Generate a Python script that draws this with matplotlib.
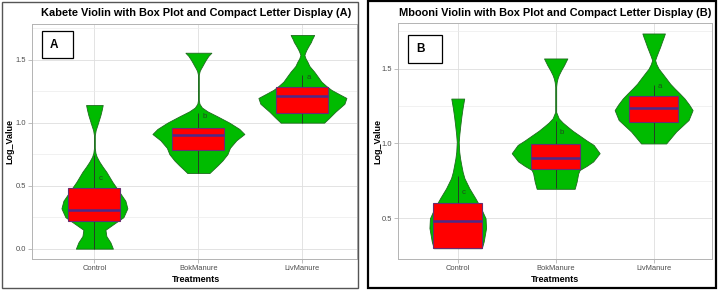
import numpy as np
import matplotlib.pyplot as plt
from matplotlib.patches import Rectangle

plt.rcParams['font.family'] = ['Liberation Sans', 'DejaVu Sans']

W, H = 718, 290

treatments = ["Control", "BokManure", "LivManure"]
letters = ["c", "b", "a"]

# Kabete (A): violin outlines, half width in category units
kab_ctrl_y = [0.00, 0.05, 0.10, 0.15, 0.20, 0.25, 0.32, 0.38, 0.45, 0.53, 0.57, 0.61, 0.65, 0.69, 0.73, 0.76, 0.80, 0.90, 0.94, 0.98, 1.02, 1.06, 1.10, 1.14]
kab_ctrl_w = [0.178, 0.154, 0.115, 0.106, 0.192, 0.279, 0.317, 0.298, 0.240, 0.173, 0.144, 0.115, 0.080, 0.048, 0.022, 0.010, 0.004, 0.004, 0.012, 0.028, 0.043, 0.058, 0.070, 0.080]
kab_bok_y = [0.60, 0.63, 0.66, 0.70, 0.75, 0.80, 0.86, 0.91, 0.95, 1.00, 1.05, 1.09, 1.12, 1.15, 1.18, 1.38, 1.41, 1.43, 1.45, 1.48, 1.50, 1.53, 1.555]
kab_bok_w = [0.106, 0.144, 0.183, 0.231, 0.279, 0.303, 0.365, 0.442, 0.394, 0.298, 0.183, 0.087, 0.034, 0.010, 0.004, 0.004, 0.012, 0.024, 0.038, 0.058, 0.072, 0.096, 0.125]
kab_liv_y = [1.00, 1.04, 1.087, 1.15, 1.196, 1.23, 1.26, 1.29, 1.325, 1.37, 1.405, 1.43, 1.45, 1.484, 1.51, 1.537, 1.56, 1.577, 1.60, 1.62, 1.64, 1.66, 1.68, 1.696]
kab_liv_w = [0.209, 0.260, 0.317, 0.404, 0.423, 0.346, 0.279, 0.231, 0.183, 0.144, 0.113, 0.087, 0.067, 0.048, 0.030, 0.019, 0.029, 0.038, 0.053, 0.067, 0.082, 0.091, 0.104, 0.113]

kab_q1 = [0.22, 0.78, 1.08]
kab_med = [0.31, 0.90, 1.21]
kab_q3 = [0.48, 0.96, 1.28]
kab_lo = [0.00, 0.60, 1.00]
kab_hi = [0.74, 1.08, 1.38]
kab_let = [0.56, 1.045, 1.36]

# Mbooni (B)
mbo_ctrl_y = [0.30, 0.345, 0.435, 0.50, 0.57, 0.635, 0.70, 0.768, 0.81, 0.857, 0.90, 0.945, 1.01, 1.06, 1.12, 1.18, 1.235, 1.27, 1.30]
mbo_ctrl_w = [0.245, 0.265, 0.289, 0.284, 0.235, 0.179, 0.119, 0.068, 0.050, 0.036, 0.024, 0.015, 0.010, 0.016, 0.026, 0.037, 0.049, 0.058, 0.066]
mbo_bok_y = [0.697, 0.745, 0.80, 0.823, 0.85, 0.88, 0.935, 0.99, 1.02, 1.057, 1.085, 1.112, 1.14, 1.168, 1.21, 1.38, 1.41, 1.435, 1.457, 1.49, 1.523, 1.568]
mbo_bok_w = [0.194, 0.214, 0.230, 0.245, 0.316, 0.383, 0.449, 0.388, 0.316, 0.235, 0.173, 0.122, 0.071, 0.031, 0.005, 0.005, 0.010, 0.019, 0.031, 0.056, 0.085, 0.119]
mbo_liv_y = [1.00, 1.04, 1.08, 1.12, 1.157, 1.223, 1.26, 1.30, 1.335, 1.368, 1.40, 1.435, 1.47, 1.50, 1.53, 1.557, 1.585, 1.612, 1.645, 1.68, 1.71, 1.735]
mbo_liv_w = [0.128, 0.179, 0.230, 0.296, 0.357, 0.398, 0.362, 0.316, 0.265, 0.214, 0.168, 0.128, 0.087, 0.051, 0.028, 0.015, 0.030, 0.046, 0.066, 0.085, 0.102, 0.115]

mbo_q1 = [0.30, 0.83, 1.145]
mbo_med = [0.48, 0.90, 1.235]
mbo_q3 = [0.60, 0.997, 1.317]
mbo_lo = [0.30, 0.70, 1.00]
mbo_hi = [0.78, 1.15, 1.39]
mbo_let = [0.67, 1.07, 1.38]


def fx(px):
    return px / W


def fy(py):
    return 1 - py / H


def draw_panel(ax, violins, q1, med, q3, lo, hi, let_y, yticks):
    pos = np.arange(1, len(treatments) + 1)
    # grid like theme_light
    ax.set_axisbelow(True)
    ax.yaxis.set_minor_locator(plt.FixedLocator([t + 0.25 for t in [-0.5] + yticks]))
    ax.grid(True, which='major', color='#DEDEDE', lw=0.6)
    ax.grid(True, which='minor', axis='y', color='#EBEBEB', lw=0.5)
    for i, (vy, vw) in enumerate(violins):
        vy = np.array(vy)
        vw = np.array(vw)
        ax.fill_betweenx(vy, pos[i] - vw, pos[i] + vw, facecolor='#00BB00',
                         edgecolor='#1E6B1E', lw=0.6, zorder=2)
    ax.vlines(pos, lo, q1, color='#2B2B2B', lw=0.6, zorder=3)
    ax.vlines(pos, q3, hi, color='#2B2B2B', lw=0.6, zorder=3)
    for i in range(len(pos)):
        ax.add_patch(Rectangle((pos[i] - 0.25, q1[i]), 0.5, q3[i] - q1[i],
                               facecolor='#FF0000', edgecolor='#6A2C70', lw=0.8, zorder=4))
        ax.plot([pos[i] - 0.25, pos[i] + 0.25], [med[i], med[i]], color='#4B2A8A',
                lw=1.8, zorder=5, solid_capstyle='butt')
        ax.text(pos[i] + 0.06, let_y[i], letters[i], fontsize=5.6, color='#1F4A1F',
                ha='center', va='center', zorder=6)
    ax.set_xticks(pos)
    ax.set_xticklabels(treatments)
    ax.set_yticks(yticks)
    ax.set_yticklabels(["%.1f" % t for t in yticks])
    ax.tick_params(which='major', length=3, width=0.6, color='#B3B3B3',
                   labelsize=5.4, labelcolor='#4D4D4D', pad=1.5)
    ax.tick_params(which='minor', length=0)
    for s in ax.spines.values():
        s.set_color('#B3B3B3')
        s.set_linewidth(0.7)


fig = plt.figure(figsize=(W / 100, H / 100), dpi=100)

# left panel: Kabete
ax1 = fig.add_axes([fx(32), fy(259), fx(357) - fx(32), fy(24) - fy(259)])
draw_panel(ax1, [(kab_ctrl_y, kab_ctrl_w), (kab_bok_y, kab_bok_w), (kab_liv_y, kab_liv_w)],
           kab_q1, kab_med, kab_q3, kab_lo, kab_hi, kab_let, [0.0, 0.5, 1.0, 1.5])
ax1.set_xlim(0.4, 0.4 + (357 - 32) / 104)
ax1.set_ylim(-0.082, 1.783)

# right panel: Mbooni
ax2 = fig.add_axes([fx(398), fy(259), fx(712) - fx(398), fy(23) - fy(259)])
draw_panel(ax2, [(mbo_ctrl_y, mbo_ctrl_w), (mbo_bok_y, mbo_bok_w), (mbo_liv_y, mbo_liv_w)],
           mbo_q1, mbo_med, mbo_q3, mbo_lo, mbo_hi, mbo_let, [0.5, 1.0, 1.5])
ax2.set_xlim(0.39, 3.596)
ax2.set_ylim(0.228, 1.805)

# titles and axis titles
fig.text(fx(196.5), fy(13.5), "Kabete Violin with Box Plot and Compact Letter Display (A)",
         fontsize=7.9, fontweight='bold', ha='center', va='center')
fig.text(fx(555), fy(13), "Mbooni Violin with Box Plot and Compact Letter Display (B)",
         fontsize=7.9, fontweight='bold', ha='center', va='center')
for cx in [196.5, 555]:
    fig.text(fx(cx), fy(279.5), "Treatments", fontsize=6.5, fontweight='bold',
             ha='center', va='center')
fig.text(fx(10), fy(141), "Log_Value", fontsize=6.5, fontweight='bold', rotation=90,
         ha='center', va='center')
fig.text(fx(378), fy(141), "Log_Value", fontsize=6.5, fontweight='bold', rotation=90,
         ha='center', va='center')

# panel labels in boxes
fig.add_artist(Rectangle((fx(41.7), fy(58)), fx(73.3) - fx(41.7), fy(31) - fy(58),
                         transform=fig.transFigure, facecolor='white', edgecolor='black', lw=0.9))
fig.text(fx(54), fy(45), "A", fontsize=8.5, fontweight='bold', ha='center', va='center')
fig.add_artist(Rectangle((fx(408.3), fy(63.3)), fx(441.7) - fx(408.3), fy(35) - fy(63.3),
                         transform=fig.transFigure, facecolor='white', edgecolor='black', lw=0.9))
fig.text(fx(420), fy(49), "B", fontsize=8.5, fontweight='bold', ha='center', va='center')

# outer frames of the two images
fig.add_artist(Rectangle((fx(1.5), fy(288)), fx(358) - fx(1.5), fy(1.5) - fy(288),
                         transform=fig.transFigure, fill=False, edgecolor='#555555', lw=1.0))
fig.add_artist(Rectangle((fx(368), fy(288)), fx(716) - fx(368), fy(1) - fy(288),
                         transform=fig.transFigure, fill=False, edgecolor='black', lw=1.6))

plt.savefig("out.png", dpi=100)
